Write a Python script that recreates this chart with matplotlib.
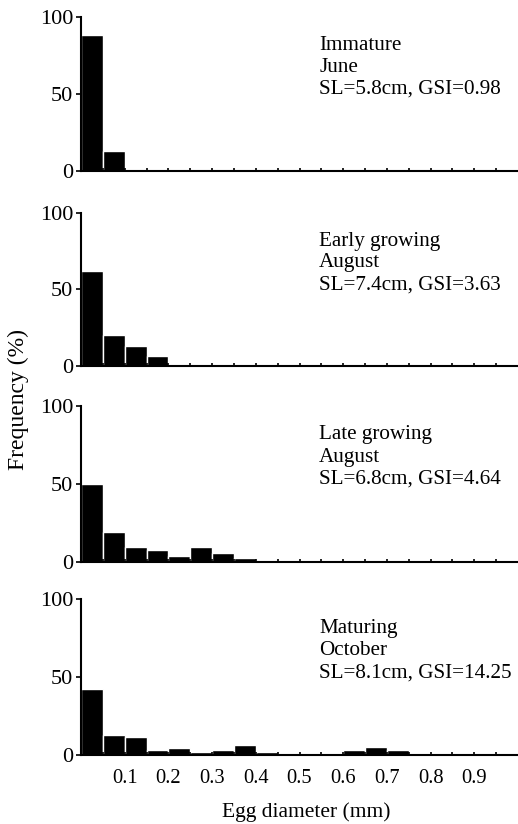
import numpy as np
import matplotlib
matplotlib.use("Agg")
import matplotlib.pyplot as plt

plt.rcParams['font.family'] = ['Liberation Serif', 'DejaVu Serif']

# Bin left edges (mm), bin width 0.05 mm
bin_lefts = [0.00, 0.05, 0.10, 0.15, 0.20, 0.25, 0.30, 0.35, 0.40, 0.45,
             0.50, 0.55, 0.60, 0.65, 0.70, 0.75]
bin_width = 0.05

immature = [88, 13, 0, 0, 0, 0, 0, 0, 0, 0, 0, 0, 0, 0, 0, 0]
early_growing = [62, 20, 13, 6.5, 0, 0, 0, 0, 0, 0, 0, 0, 0, 0, 0, 0]
late_growing = [50, 19, 9.6, 7.5, 3.4, 9.6, 5.6, 2.6, 0, 0, 0, 0, 0, 0, 0, 0]
maturing = [42.5, 12.8, 11.5, 3.2, 4.5, 2.4, 3.2, 6.6, 2.4, 0, 0, 0, 3.2, 5.6, 3.2, 0]

labels = [
    ["Immature", "June", "SL=5.8cm, GSI=0.98"],
    ["Early growing", "August", "SL=7.4cm, GSI=3.63"],
    ["Late growing", "August", "SL=6.8cm, GSI=4.64"],
    ["Maturing", "October", "SL=8.1cm, GSI=14.25"],
]
series = [immature, early_growing, late_growing, maturing]

y_ticks = [0, 50, 100]
x_ticks = np.round(np.arange(0.05, 1.0, 0.05), 2)

W, H = 518, 824
fig = plt.figure(figsize=(W / 100, H / 100), dpi=100)

# panel pixel geometry (top of 100, position of 0)
panel_px = [(17, 171), (212.7, 366), (406, 561.7), (599.3, 755.3)]
left_px, right_px = 81, 518
fs_text = 15.2
fs_ytick = 16
fs_xtick = 14.8

for i, (vals, txt) in enumerate(zip(series, labels)):
    top, bot = panel_px[i]
    ax = fig.add_axes([left_px / W, 1 - bot / H, (right_px - left_px) / W, (bot - top) / H])
    ax.bar(bin_lefts, vals, width=bin_width, align='edge', color='black',
           edgecolor='white', linewidth=1.0, zorder=1)
    ax.set_xlim(0, 1.0)
    ax.set_ylim(0, 100)
    for s in ['top', 'right']:
        ax.spines[s].set_visible(False)
    for s in ['left', 'bottom']:
        ax.spines[s].set_linewidth(1.5)
        ax.spines[s].set_zorder(3)
    ax.set_yticks(y_ticks)
    ax.set_yticklabels([str(v) for v in y_ticks], fontsize=fs_ytick)
    ax.tick_params(axis='y', direction='out', length=3.5, width=1.2, pad=2)
    ax.set_xticks(x_ticks)
    if i == 3:
        lab = ["" if (round(t * 100) % 10) else f"{t:.1f}" for t in x_ticks]
        ax.set_xticklabels(lab, fontsize=fs_xtick)
    else:
        ax.set_xticklabels([])
    ax.tick_params(axis='x', direction='in', length=2.5, width=1.2, pad=9.9)
    for j, line in enumerate(txt):
        ax.text(0.545, 78.5 - j * 14.2, line, fontsize=fs_text, ha='left', va='baseline')

fig.text(18 / W, 1 - 399 / H, "Frequency (%)", rotation=90, fontsize=17,
         ha='center', va='center')
fig.text(306 / W, 1 - 812 / H, "Egg diameter (mm)", fontsize=15.5,
         ha='center', va='center')

fig.savefig("out.png", dpi=100)
